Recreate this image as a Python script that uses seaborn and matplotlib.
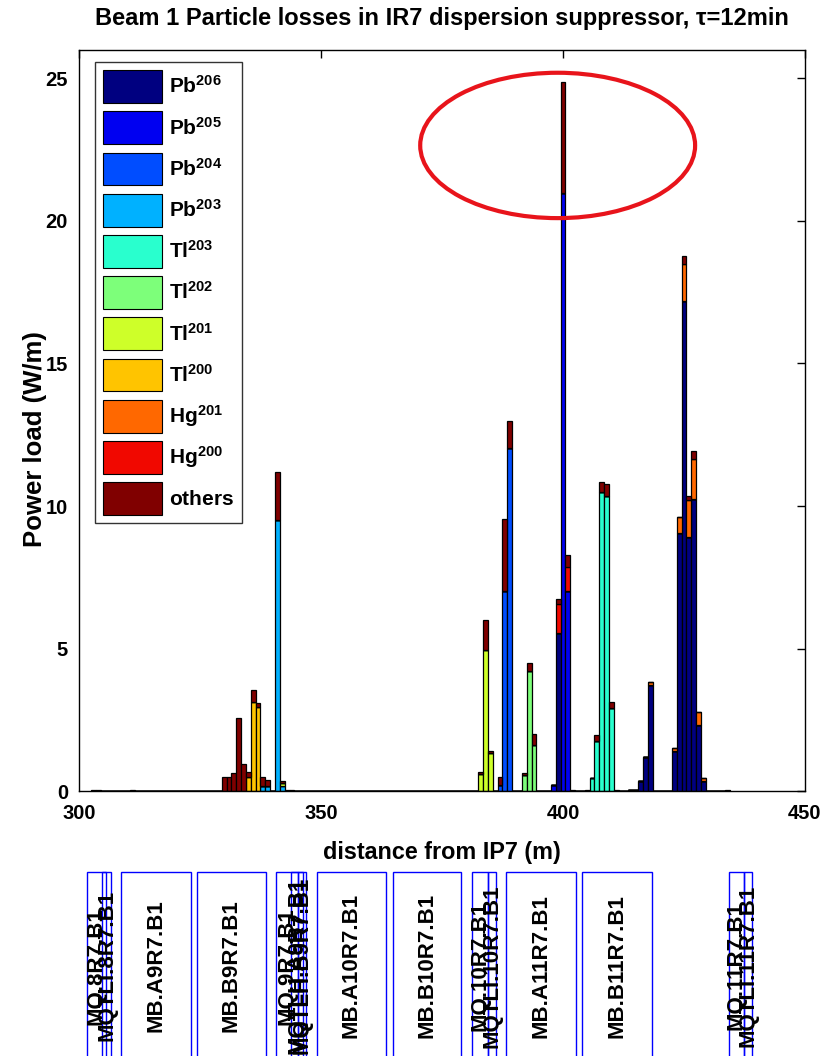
import numpy as np
import pandas as pd
import matplotlib
matplotlib.use("Agg")
import matplotlib.pyplot as plt
from matplotlib.patches import Ellipse, Rectangle, Patch
import seaborn as sns

# loss species, bottom of the stack first
species = ["Pb206", "Pb205", "Pb204", "Pb203", "Tl203", "Tl202",
           "Tl201", "Tl200", "Hg201", "Hg200", "others"]
legend_labels = [r"$\mathbf{Pb^{206}}$", r"$\mathbf{Pb^{205}}$", r"$\mathbf{Pb^{204}}$",
                 r"$\mathbf{Pb^{203}}$", r"$\mathbf{Tl^{203}}$", r"$\mathbf{Tl^{202}}$",
                 r"$\mathbf{Tl^{201}}$", r"$\mathbf{Tl^{200}}$", r"$\mathbf{Hg^{201}}$",
                 r"$\mathbf{Hg^{200}}$", r"$\mathbf{others}$"]

# power load per 1 m bin (W/m)
pb206_x = [399, 414, 415, 416, 417, 418, 423, 424, 425, 426, 427, 428, 429]
pb206_y = [5.53, 0.05, 0.05, 0.36, 1.18, 3.72, 1.42, 9.06, 17.2, 8.93, 10.24, 2.33, 0.35]
pb205_x = [398, 400, 401]
pb205_y = [0.21, 20.97, 7.03]
pb204_x = [387, 388, 389]
pb204_y = [0.21, 7.03, 12.02]
pb203_x = [338, 339, 341, 342]
pb203_y = [0.18, 0.18, 9.5, 0.19]
tl203_x = [406, 407, 408, 409, 410]
tl203_y = [0.47, 1.74, 10.49, 10.34, 2.92]
tl202_x = [392, 393, 394]
tl202_y = [0.58, 4.22, 1.61]
tl201_x = [342, 383, 384, 385]
tl201_y = [0.1, 0.6, 4.95, 1.32]
tl200_x = [335, 336, 337]
tl200_y = [0.48, 3.13, 2.94]
hg201_x = [418, 423, 424, 425, 426, 427, 428, 429]
hg201_y = [0.12, 0.08, 0.55, 1.29, 1.28, 1.42, 0.46, 0.1]
hg200_x = [399, 401]
hg200_y = [1.03, 0.84]
others_x = [303, 304, 311, 330, 331, 332, 333, 334, 335, 336, 337, 338, 339, 341,
            342, 343, 344, 383, 384, 385, 387, 388, 389, 392, 393, 394, 399, 400,
            401, 402, 405, 407, 408, 409, 410, 411, 425, 426, 427, 434]
others_y = [0.05, 0.05, 0.05, 0.48, 0.48, 0.62, 2.57, 0.95, 0.2, 0.41, 0.16, 0.3,
            0.21, 1.7, 0.07, 0.05, 0.05, 0.08, 1.05, 0.08, 0.29, 2.5, 0.96, 0.04,
            0.26, 0.38, 0.18, 3.9, 0.41, 0.05, 0.05, 0.22, 0.35, 0.43, 0.2, 0.05,
            0.29, 0.15, 0.28, 0.05]

# magnet layout below the plot (start, end in m)
magnet_names = ["MQ.8R7.B1", "MQTLI.8R7.B1", "MB.A9R7.B1", "MB.B9R7.B1",
                "MQ.9R7.B1", "MQTLH.A9R7.B1", "MQTLH.B9R7.B1",
                "MB.A10R7.B1", "MB.B10R7.B1", "MQ.10R7.B1", "MQTLI.10R7.B1",
                "MB.A11R7.B1", "MB.B11R7.B1", "MQ.11R7.B1", "MQTLI.11R7.B1"]
magnet_start = [301.7, 304.8, 308.6, 324.3, 340.7, 343.9, 345.3,
                349.1, 364.8, 381.3, 384.6, 388.2, 404.0, 434.2, 437.3]
magnet_end = [305.5, 306.6, 323.1, 338.6, 345.3, 346.3, 347.0,
              363.4, 378.9, 384.6, 386.2, 402.7, 418.3, 437.3, 439.0]

series = [pb206_x, pb205_x, pb204_x, pb203_x, tl203_x, tl202_x,
          tl201_x, tl200_x, hg201_x, hg200_x, others_x]
values = [pb206_y, pb205_y, pb204_y, pb203_y, tl203_y, tl202_y,
          tl201_y, tl200_y, hg201_y, hg200_y, others_y]
df = pd.concat([pd.DataFrame({"pos": xs, "load": ys, "species": name})
                for name, xs, ys in zip(species, series, values)], ignore_index=True)

sns.set_theme(style="white")
plt.rcParams["font.family"] = ["Liberation Sans", "DejaVu Sans"]
plt.rcParams["mathtext.fontset"] = "custom"
plt.rcParams["mathtext.bf"] = "Liberation Sans:bold"
plt.rcParams["mathtext.rm"] = "Liberation Sans"
for key in ["text.color", "axes.labelcolor", "xtick.color", "ytick.color"]:
    plt.rcParams[key] = "black"

colors = plt.cm.jet(np.linspace(0, 1, len(species)))
palette = dict(zip(species, colors))

fig = plt.figure(figsize=(8.28, 10.56), dpi=100)
ax = fig.add_axes([0.0954, 0.2509, 0.8768, 0.7018])

# seaborn puts the first hue level on top of the stack
sns.histplot(data=df, x="pos", weights="load", hue="species", hue_order=species[::-1],
             multiple="stack", discrete=True, palette=palette, alpha=1,
             edgecolor="black", linewidth=0.9, legend=False, ax=ax)

ax.add_patch(Ellipse((398.9, 22.65), 56.8, 5.1, fill=False, edgecolor="#e8141b", lw=3))

ax.set_xlim(300, 450)
ax.set_ylim(0, 26)
ax.set_xticks([300, 350, 400, 450])
ax.set_yticks([0, 5, 10, 15, 20, 25])
ax.set_xlabel("")
ax.set_ylabel("")
ax.tick_params(direction="in", length=6, width=1, top=True, right=True,
               labelsize=14.5, colors="black")
ax.tick_params(axis="y", pad=8)
ax.tick_params(axis="x", pad=9)
for lab in ax.get_xticklabels() + ax.get_yticklabels():
    lab.set_fontweight("bold")
for sp in ax.spines.values():
    sp.set_color("black")
    sp.set_linewidth(1)

handles = [Patch(facecolor=palette[s], edgecolor="black", lw=0.8) for s in species]
leg = ax.legend(handles, legend_labels, loc="upper left", bbox_to_anchor=(0.022, 0.984),
                borderaxespad=0, fontsize=15, handlelength=2.8, handleheight=2.05,
                labelspacing=0.4, handletextpad=0.35, borderpad=0.4,
                frameon=True, fancybox=False, edgecolor="black")
leg.get_frame().set_linewidth(1)

fig.text(442 / 828, 1 - 19 / 1056, "Beam 1 Particle losses in IR7 dispersion suppressor, τ=12min",
         ha="center", va="center", fontsize=17, fontweight="bold")
fig.text(442 / 828, 1 - 852 / 1056, "distance from IP7 (m)",
         ha="center", va="center", fontsize=16.8, fontweight="bold")
fig.text(35 / 828, 1 - 439 / 1056, "Power load (W/m)", rotation=90,
         ha="center", va="center", fontsize=18.5, fontweight="bold")

# magnet boxes
mag_ax = fig.add_axes([0.0954, 0.0, 0.8768, 0.1742])
mag_ax.set_xlim(300, 450)
mag_ax.set_ylim(0, 1)
mag_ax.axis("off")
for name, start, end in zip(magnet_names, magnet_start, magnet_end):
    mag_ax.add_patch(Rectangle((start, -0.5), end - start, 1.5, fill=False,
                               edgecolor="blue", lw=1, clip_on=False))
    mag_ax.text((start + end) / 2, 0.49, name, rotation=90, ha="center", va="center",
                fontsize=16, fontweight="bold", clip_on=False)

fig.savefig("out.png", dpi=100)
